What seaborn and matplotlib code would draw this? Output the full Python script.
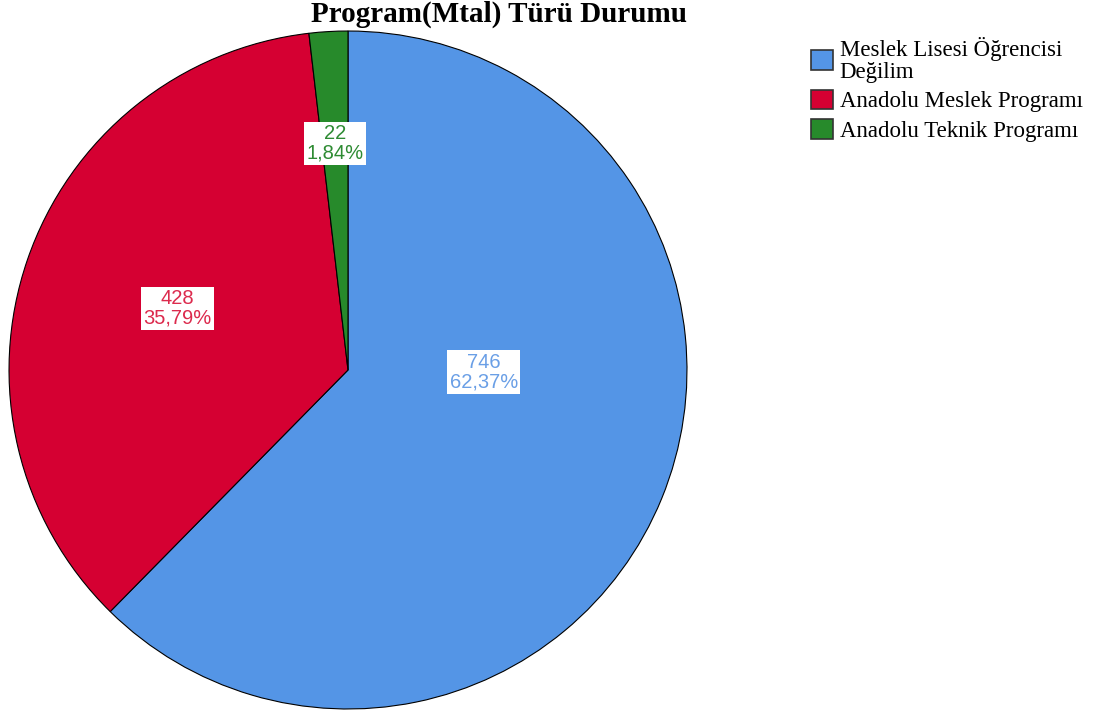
import matplotlib.pyplot as plt
import seaborn as sns
from matplotlib.patches import Patch

categories = ["Meslek Lisesi Öğrencisi\nDeğilim", "Anadolu Meslek Programı", "Anadolu Teknik Programı"]
counts = [746, 428, 22]
percents = ["62,37%", "35,79%", "1,84%"]
wedge_colors = ["#5495E6", "#D50032", "#278A2B"]
text_colors = ["#6A9FE6", "#DC2A4D", "#2E8B33"]
# label positions in pie units (SPSS-style placement)
label_xy = [(0.401, -0.006), (-0.503, 0.182), (-0.038, 0.668)]

sns.set_theme(style="white")
plt.rcParams["font.family"] = ["DejaVu Sans"]

W, H = 1102, 717
fig = plt.figure(figsize=(W / 100, H / 100), dpi=100)
cx, cy, r = 348, 370, 340
ax = fig.add_axes([(cx - r) / W, (H - cy - r) / H, 2 * r / W, 2 * r / H])

ax.pie(counts, colors=wedge_colors, startangle=90, counterclock=False,
       radius=1, wedgeprops=dict(edgecolor="black", linewidth=0.8))
ax.set_xlim(-1.003, 1.003)
ax.set_ylim(-1.003, 1.003)
ax.set_aspect("equal")
ax.axis("off")

for (x, y), n, p, c in zip(label_xy, counts, percents, text_colors):
    ax.text(x, y, f"{n}\n{p}", ha="center", va="center", color=c,
            family="Liberation Sans", fontsize=14.5, linespacing=1.05,
            bbox=dict(boxstyle="square,pad=0.12", facecolor="white", edgecolor="none"))

fig.text(499 / W, 1 - 14 / H, "Program(Mtal) Türü Durumu", ha="center", va="center",
         family="Liberation Serif", fontweight="bold", fontsize=21, color="black")

handles = [Patch(facecolor=c, edgecolor="#333333", linewidth=1.2) for c in wedge_colors]
leg = fig.legend(handles, categories, loc="upper left", bbox_to_anchor=(811 / W, 1 - 37 / H),
                 frameon=False, prop={"family": "Liberation Serif", "size": 16.5},
                 handlelength=0.95, handleheight=0.95, handletextpad=0.3,
                 labelspacing=0.3, borderaxespad=0, borderpad=0, labelcolor="black")
for t in leg.get_texts():
    t.set_linespacing(1.05)

fig.savefig("out.png", dpi=100)
